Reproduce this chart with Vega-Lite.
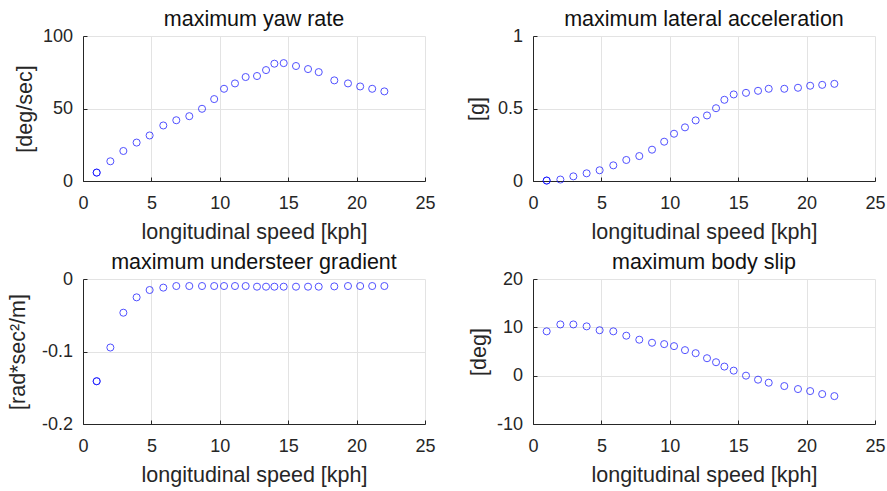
{
  "$schema": "https://vega.github.io/schema/vega-lite/v6.json",
  "autosize": {"type": "none"},
  "padding": {"left": 83, "top": 36, "right": 804, "bottom": 455},
  "background": "#ffffff",
  "data": {
    "values": [
      {"speed": 1.0, "yaw": 5.8, "lat": 0.003, "usg": -0.141, "slip": null},
      {"speed": 1.0, "yaw": 5.8, "lat": 0.003, "usg": -0.141, "slip": 9.17},
      {"speed": 2.0, "yaw": 13.6, "lat": 0.01, "usg": -0.0945, "slip": 10.6},
      {"speed": 2.95, "yaw": 20.7, "lat": 0.032, "usg": -0.0465, "slip": 10.6},
      {"speed": 3.92, "yaw": 26.5, "lat": 0.053, "usg": -0.0253, "slip": 10.2},
      {"speed": 4.87, "yaw": 31.4, "lat": 0.074, "usg": -0.0152, "slip": 9.4},
      {"speed": 5.87, "yaw": 38.3, "lat": 0.108, "usg": -0.0119, "slip": 9.17},
      {"speed": 6.82, "yaw": 41.9, "lat": 0.145, "usg": -0.0097, "slip": 8.27},
      {"speed": 7.77, "yaw": 44.7, "lat": 0.172, "usg": -0.0097, "slip": 7.44},
      {"speed": 8.7, "yaw": 49.8, "lat": 0.216, "usg": -0.0097, "slip": 6.81},
      {"speed": 9.59, "yaw": 56.5, "lat": 0.271, "usg": -0.0097, "slip": 6.53},
      {"speed": 10.31, "yaw": 63.6, "lat": 0.326, "usg": -0.0097, "slip": 6.11},
      {"speed": 11.11, "yaw": 67.3, "lat": 0.37, "usg": -0.0097, "slip": 5.28},
      {"speed": 11.89, "yaw": 71.7, "lat": 0.418, "usg": -0.0097, "slip": 4.65},
      {"speed": 12.72, "yaw": 72.4, "lat": 0.452, "usg": -0.0106, "slip": 3.61},
      {"speed": 13.38, "yaw": 76.5, "lat": 0.502, "usg": -0.0106, "slip": 2.78},
      {"speed": 13.99, "yaw": 80.9, "lat": 0.56, "usg": -0.0106, "slip": 1.88},
      {"speed": 14.67, "yaw": 81.3, "lat": 0.597, "usg": -0.0106, "slip": 1.04},
      {"speed": 15.57, "yaw": 79.3, "lat": 0.608, "usg": -0.0106, "slip": 0.0},
      {"speed": 16.45, "yaw": 77.2, "lat": 0.622, "usg": -0.0106, "slip": -0.83},
      {"speed": 17.23, "yaw": 75.1, "lat": 0.636, "usg": -0.0106, "slip": -1.46},
      {"speed": 18.37, "yaw": 69.4, "lat": 0.636, "usg": -0.0102, "slip": -2.15},
      {"speed": 19.37, "yaw": 67.3, "lat": 0.643, "usg": -0.0097, "slip": -2.77},
      {"speed": 20.26, "yaw": 65.2, "lat": 0.657, "usg": -0.0097, "slip": -3.19},
      {"speed": 21.14, "yaw": 63.6, "lat": 0.663, "usg": -0.0097, "slip": -3.81},
      {"speed": 22.03, "yaw": 61.8, "lat": 0.67, "usg": -0.0097, "slip": -4.23}
    ]
  },
  "columns": 2,
  "spacing": {"row": 98, "column": 108},
  "bounds": "flush",
  "concat": [
    {
      "title": "maximum yaw rate",
      "width": 342,
      "height": 145,
      "mark": {"type": "point", "shape": "circle", "filled": false, "color": "#0000ff", "strokeWidth": 1, "size": 50, "opacity": 0.68},
      "encoding": {
        "x": {"field": "speed", "type": "quantitative", "scale": {"domain": [0, 25]},
              "axis": {"values": [0, 5, 10, 15, 20, 25], "title": "longitudinal speed [kph]", "labelExpr": "toString(datum.value)", "labelBaseline": "alphabetic", "labelPadding": 31.6, "titleX": 171, "titleY": 57, "titleAlign": "center", "titleBaseline": "alphabetic"}},
        "y": {"field": "yaw", "type": "quantitative", "scale": {"domain": [0, 100]},
              "axis": {"values": [0, 50, 100], "title": "[deg/sec]", "labelExpr": "toString(datum.value)", "labelPadding": 14.5, "titleX": -58, "titleY": 72.5, "titleAngle": 270, "titleAlign": "center", "titleBaseline": "middle"}}
      }
    },
    {
      "title": "maximum lateral acceleration",
      "width": 342,
      "height": 145,
      "mark": {"type": "point", "shape": "circle", "filled": false, "color": "#0000ff", "strokeWidth": 1, "size": 50, "opacity": 0.68},
      "encoding": {
        "x": {"field": "speed", "type": "quantitative", "scale": {"domain": [0, 25]},
              "axis": {"values": [0, 5, 10, 15, 20, 25], "title": "longitudinal speed [kph]", "labelExpr": "toString(datum.value)", "labelBaseline": "alphabetic", "labelPadding": 31.6, "titleX": 171, "titleY": 57, "titleAlign": "center", "titleBaseline": "alphabetic"}},
        "y": {"field": "lat", "type": "quantitative", "scale": {"domain": [0, 1]},
              "axis": {"values": [0, 0.5, 1], "title": "[g]", "labelExpr": "toString(datum.value)", "labelPadding": 14.5, "titleX": -56, "titleY": 72.5, "titleAngle": 270, "titleAlign": "center", "titleBaseline": "middle"}}
      }
    },
    {
      "title": "maximum understeer gradient",
      "width": 342,
      "height": 145,
      "mark": {"type": "point", "shape": "circle", "filled": false, "color": "#0000ff", "strokeWidth": 1, "size": 50, "opacity": 0.68},
      "encoding": {
        "x": {"field": "speed", "type": "quantitative", "scale": {"domain": [0, 25]},
              "axis": {"values": [0, 5, 10, 15, 20, 25], "title": "longitudinal speed [kph]", "labelExpr": "toString(datum.value)", "labelBaseline": "alphabetic", "labelPadding": 31.6, "titleX": 171, "titleY": 57, "titleAlign": "center", "titleBaseline": "alphabetic"}},
        "y": {"field": "usg", "type": "quantitative", "scale": {"domain": [-0.2, 0]},
              "axis": {"values": [-0.2, -0.1, 0], "title": "[rad*sec²/m]", "labelExpr": "toString(datum.value)", "labelPadding": 14.5, "titleX": -65, "titleY": 72.5, "titleAngle": 270, "titleAlign": "center", "titleBaseline": "middle"}}
      }
    },
    {
      "title": "maximum body slip",
      "width": 342,
      "height": 145,
      "mark": {"type": "point", "shape": "circle", "filled": false, "color": "#0000ff", "strokeWidth": 1, "size": 50, "opacity": 0.68},
      "encoding": {
        "x": {"field": "speed", "type": "quantitative", "scale": {"domain": [0, 25]},
              "axis": {"values": [0, 5, 10, 15, 20, 25], "title": "longitudinal speed [kph]", "labelExpr": "toString(datum.value)", "labelBaseline": "alphabetic", "labelPadding": 31.6, "titleX": 171, "titleY": 57, "titleAlign": "center", "titleBaseline": "alphabetic"}},
        "y": {"field": "slip", "type": "quantitative", "scale": {"domain": [-10, 20]},
              "axis": {"values": [-10, 0, 10, 20], "title": "[deg]", "labelExpr": "toString(datum.value)", "labelPadding": 14.5, "titleX": -54, "titleY": 72.5, "titleAngle": 270, "titleAlign": "center", "titleBaseline": "middle"}}
      }
    }
  ],
  "config": {
    "font": "Liberation Sans",
    "view": {"stroke": null},
    "axis": {
      "domainColor": "#262626",
      "tickColor": "#262626",
      "tickSize": -4,
      "labelColor": "#262626",
      "titleColor": "#262626",
      "gridColor": "#e3e3e3",
      "labelFontSize": 18,
      "titleFontSize": 21.5,
      "titleFontWeight": "normal",
      "labelFont": "Liberation Sans",
      "titleFont": "Liberation Sans",
      "labelOverlap": false,
      "labelFlush": false
    },
    "title": {"fontSize": 21.5, "fontWeight": "normal", "color": "#111111", "font": "Liberation Sans", "baseline": "alphabetic", "offset": -3, "anchor": "middle", "frame": "group"}
  }
}
